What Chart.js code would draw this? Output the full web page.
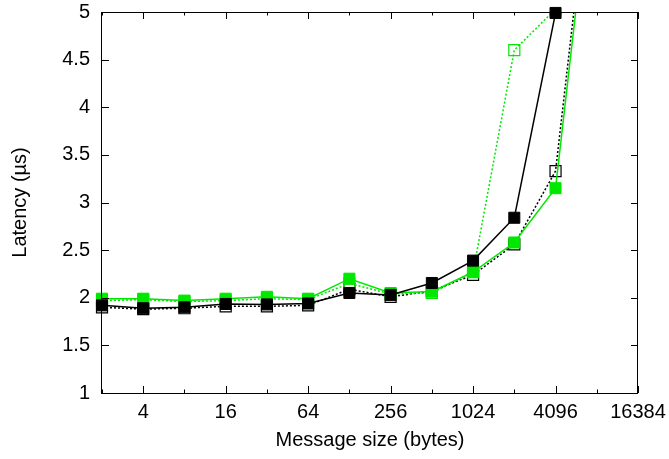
<!DOCTYPE html>
<html><head><meta charset="utf-8">
<script src="https://cdn.jsdelivr.net/npm/chart.js@4.4.1/dist/chart.umd.min.js"></script>
<style>html,body{margin:0;padding:0;background:#fff}#wrap{width:669px;height:459px}</style>
</head><body><div id="wrap"><canvas id="c" width="669" height="459"></canvas></div>
<script>
// message sizes (bytes)
const sizes = [2, 4, 8, 16, 32, 64, 128, 256, 512, 1024, 2048, 4096, 8192];
// latency series (µs)
const blackFilled = [1.92, 1.89, 1.90, 1.935, 1.93, 1.94, 2.05, 2.03, 2.155, 2.39, 2.84, 4.99];
const blackOpen   = [1.90, 1.88, 1.89, 1.91, 1.91, 1.92, 2.09, 2.01, 2.07, 2.24, 2.56, 3.33, 7.1];
const greenOpen   = [1.97, 1.98, 1.96, 1.97, 1.99, 1.98, 2.15, 2.04, 2.05, 2.27, 4.60, 5.03, 8.0];
const greenFilled = [1.99, 1.99, 1.97, 1.99, 2.01, 1.99, 2.20, 2.05, 2.065, 2.27, 2.58, 3.15, 6.94];
// axis ticks
const xTickValues = [2, 4, 8, 16, 32, 64, 128, 256, 512, 1024, 2048, 4096, 8192, 16384];
const xTickLabels = ['', '4', '', '16', '', '64', '', '256', '', '1024', '', '4096', '', '16384'];
const yTickValues = [1, 1.5, 2, 2.5, 3, 3.5, 4, 4.5, 5];
const yTickLabels = ['1', '1.5', '2', '2.5', '3', '3.5', '4', '4.5', '5'];

const GREEN = '#00e800';
const toPts = arr => arr.map((v, i) => ({x: sizes[i], y: v}));

const frameTicks = {
  id: 'frameTicks',
  afterDatasetsDraw(chart) {
    const {ctx, chartArea: a, scales: {x, y}} = chart;
    ctx.save();
    ctx.strokeStyle = '#000';
    ctx.lineWidth = 1;
    ctx.beginPath();
    xTickValues.forEach((v, i) => {
      const px = Math.round(x.getPixelForValue(v)) + 0.5;
      const L = xTickLabels[i] ? 7 : 3.5;
      ctx.moveTo(px, a.bottom); ctx.lineTo(px, a.bottom - L);
      ctx.moveTo(px, a.top); ctx.lineTo(px, a.top + L);
    });
    yTickValues.forEach(v => {
      const py = Math.round(y.getPixelForValue(v)) + 0.5;
      ctx.moveTo(a.left, py); ctx.lineTo(a.left + 7, py);
      ctx.moveTo(a.right, py); ctx.lineTo(a.right - 7, py);
    });
    ctx.stroke();
    ctx.strokeRect(Math.round(a.left) - 0.5, Math.round(a.top) + 0.5,
                   Math.round(a.right - a.left), Math.round(a.bottom - a.top));
    ctx.restore();
  }
};

const FONT = {family: '"Liberation Sans", Arial, sans-serif', size: 20};

new Chart(document.getElementById('c'), {
  type: 'line',
  data: {
    datasets: [
      {data: toPts(blackFilled), borderColor: '#000', backgroundColor: '#000', borderWidth: 1.5,
       pointStyle: 'rect', pointRadius: 7.8, pointBorderWidth: 1, pointBackgroundColor: '#000', pointBorderColor: '#000',
       clip: {left: 10, right: 10, top: 10, bottom: 10}},
      {data: toPts(greenFilled), borderColor: GREEN, backgroundColor: GREEN, borderWidth: 1.5,
       pointStyle: 'rect', pointRadius: 7.8, pointBorderWidth: 1, pointBackgroundColor: GREEN, pointBorderColor: GREEN,
       clip: {left: 10, right: 10, top: 0, bottom: 10}},
      {data: toPts(greenOpen), borderColor: GREEN, backgroundColor: 'rgba(0,0,0,0)', borderWidth: 1.5, borderDash: [2, 2],
       pointStyle: 'rect', pointRadius: 7.8, pointBorderWidth: 1.2, pointBackgroundColor: 'rgba(0,0,0,0)', pointBorderColor: GREEN,
       clip: {left: 10, right: 10, top: 0, bottom: 10}},
      {data: toPts(blackOpen), borderColor: '#000', backgroundColor: 'rgba(0,0,0,0)', borderWidth: 1.5, borderDash: [2, 2],
       pointStyle: 'rect', pointRadius: 7.8, pointBorderWidth: 1.2, pointBackgroundColor: 'rgba(0,0,0,0)', pointBorderColor: '#000',
       clip: {left: 10, right: 10, top: 0, bottom: 10}}
    ]
  },
  options: {
    responsive: false,
    animation: false,
    events: [],
    layout: {padding: {top: 12, right: 31, left: 0, bottom: 0}},
    plugins: {legend: {display: false}, tooltip: {enabled: false}},
    elements: {line: {tension: 0}},
    scales: {
      x: {
        type: 'logarithmic', min: 2, max: 16384,
        grid: {display: false, drawTicks: false},
        border: {display: false},
        afterBuildTicks: s => { s.ticks = xTickValues.map(v => ({value: v})); },
        afterFit: s => { s.height = 66; s.paddingLeft = 0; s.paddingRight = 0; },
        ticks: {autoSkip: false, maxRotation: 0, padding: 7, color: '#000', font: FONT,
                callback: (v) => { const i = xTickValues.indexOf(v); return i >= 0 ? xTickLabels[i] : ''; }},
        title: {display: true, text: 'Message size (bytes)', color: '#000', font: FONT, padding: {top: 0, bottom: 7}}
      },
      y: {
        type: 'linear', min: 1, max: 5,
        grid: {display: false, drawTicks: false},
        border: {display: false},
        afterBuildTicks: s => { s.ticks = yTickValues.map(v => ({value: v})); },
        afterFit: s => { s.width = 102; s.paddingTop = 0; s.paddingBottom = 0; },
        ticks: {padding: 12, color: '#000', font: FONT,
                callback: (v) => { const i = yTickValues.indexOf(v); return i >= 0 ? yTickLabels[i] : ''; }},
        title: {display: true, text: 'Latency (µs)', color: '#000', font: FONT, padding: {top: 8, bottom: 0}}
      }
    }
  },
  plugins: [frameTicks]
});
</script></body></html>
